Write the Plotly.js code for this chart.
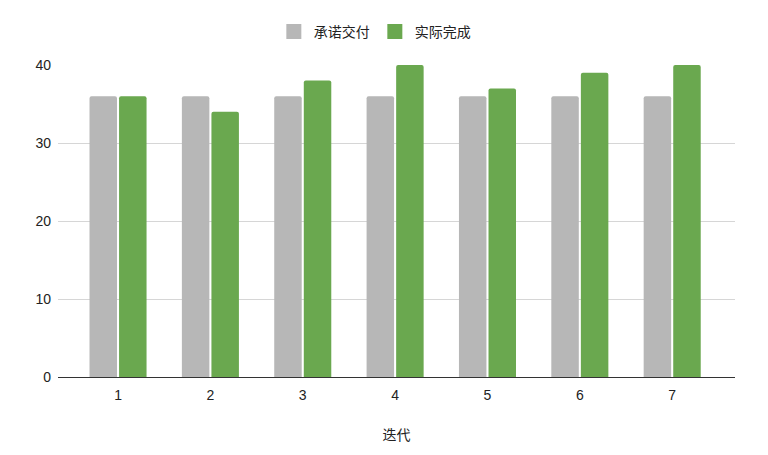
<!DOCTYPE html>
<html>
<head>
<meta charset="utf-8">
<script src="https://cdn.plot.ly/plotly-3.0.1.min.js"></script>
<style>html,body{margin:0;padding:0;background:#fff;}</style>
</head>
<body>
<div id="chart" style="width:768px;height:455px;"></div>
<script>
var categories = ['1', '2', '3', '4', '5', '6', '7'];
var committed = [36, 36, 36, 36, 36, 36, 36];
var completed = [36, 34, 38, 40, 37, 39, 40];
var seriesNames = ['承诺交付', '实际完成'];
var seriesColors = ['#b7b7b7', '#6aa84f'];
var yTicks = [0, 10, 20, 30, 40];
var xTitle = '迭代';

var FONT = "Arial, 'Liberation Sans', 'Noto Sans CJK SC', sans-serif";

var traces = [
  {type: 'bar', x: categories, y: committed, name: seriesNames[0], showlegend: false,
   marker: {color: seriesColors[0], cornerradius: 2}},
  {type: 'bar', x: categories, y: completed, name: seriesNames[1], showlegend: false,
   marker: {color: seriesColors[1], cornerradius: 2}},
  // legend entries with larger square swatches
  {type: 'scatter', mode: 'markers', x: [null], y: [null], name: seriesNames[0],
   marker: {symbol: 'square', size: 15, color: seriesColors[0]}},
  {type: 'scatter', mode: 'markers', x: [null], y: [null], name: seriesNames[1],
   marker: {symbol: 'square', size: 15, color: seriesColors[1]}}
];

var layout = {
  width: 768, height: 455,
  margin: {l: 58, r: 33, t: 65, b: 78},
  paper_bgcolor: '#fff', plot_bgcolor: '#fff',
  font: {family: FONT, size: 14, color: '#222'},
  barmode: 'group', bargap: 0.36, bargroupgap: 0.07,
  hovermode: false,
  showlegend: true,
  legend: {orientation: 'h', x: 0.468, xanchor: 'center', y: 1.106, yanchor: 'middle',
           font: {family: FONT, size: 14, color: '#222'}, itemwidth: 30, traceorder: 'normal'},
  xaxis: {type: 'category', range: [-0.65, 6.68], showgrid: false,
          showline: true, linecolor: '#333', linewidth: 1,
          ticks: '', tickfont: {size: 14, color: '#222'}, ticklabelstandoff: 5,
          title: {text: xTitle, standoff: 28, font: {size: 14, color: '#222'}},
          automargin: false, fixedrange: true},
  yaxis: {range: [0, 40], tickvals: yTicks, ticktext: yTicks.map(String),
          showgrid: true, gridcolor: '#d6d6d6', gridwidth: 1,
          zeroline: false, showline: false, ticks: '',
          ticklabelstandoff: 6,
          tickfont: {size: 14, color: '#222'}, automargin: false, fixedrange: true}
};

Plotly.newPlot('chart', traces, layout, {displayModeBar: false, staticPlot: true});
</script>
</body>
</html>
